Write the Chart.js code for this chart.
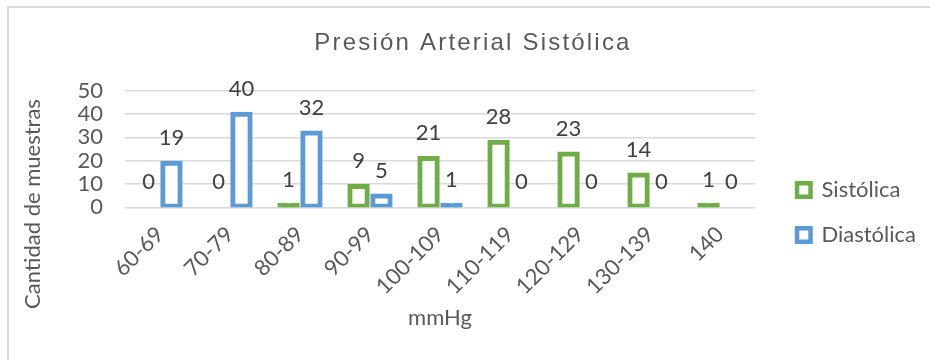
<!DOCTYPE html>
<html lang="es">
<head>
    <meta charset="UTF-8">
    <title>Presión Arterial Sistólica</title>
    <style>
        body {
            margin: 0;
            background: #ffffff;
        }
        #wrap {
            position: relative;
            width: 930px;
            height: 360px;
        }
        #frame {
            position: absolute;
            left: 7px;
            top: 6px;
            width: 940px;
            height: 370px;
            border-top: 2px solid #d9d9d9;
            border-left: 2px solid #d9d9d9;
        }
        canvas {
            position: absolute;
            left: 0;
            top: 0;
        }
    </style>
    <script src="https://cdn.jsdelivr.net/npm/chart.js"></script>
</head>
<body>

<div id="wrap">
    <div id="frame"></div>
    <canvas id="chart" width="930" height="360"></canvas>
</div>

<script>
// data
const categories = ["60-69", "70-79", "80-89", "90-99", "100-109", "110-119", "120-129", "130-139", "140"];
const sistolica = [0, 0, 1, 9, 21, 28, 23, 14, 1];
const diastolica = [19, 40, 32, 5, 1, 0, 0, 0, 0];
const yMin = 0;
const yMax = 50;
const yStep = 10;

const chartTitle = "Presión Arterial Sistólica";
const yTitle = "Cantidad de muestras";
const xTitle = "mmHg";

const textGray = "#595959";
const labelGray = "#404040";
const green = "#70AD47";
const blue = "#5B9BD5";
const font = "Lato";
const fontSize = 22;
const barBorder = 5;

// value labels above each bar
const valueLabels = {
    id: "valueLabels",
    afterDatasetsDraw(chart) {
        const ctx = chart.ctx;
        ctx.save();
        ctx.font = fontSize + "px " + font;
        ctx.fillStyle = labelGray;
        ctx.textAlign = "center";
        ctx.textBaseline = "middle";
        chart.data.datasets.forEach((ds, i) => {
            chart.getDatasetMeta(i).data.forEach((bar, j) => {
                ctx.fillText(String(ds.data[j]), bar.x, bar.y - 25);
            });
        });
        ctx.restore();
    }
};

// title with letter spacing and the y axis title centred like the original
const extraText = {
    id: "extraText",
    afterDraw(chart) {
        const ctx = chart.ctx;
        ctx.save();
        ctx.fillStyle = textGray;
        ctx.textAlign = "center";
        ctx.textBaseline = "middle";
        ctx.font = "24px 'Liberation Sans'";
        ctx.letterSpacing = "2.2px";
        ctx.fillText(chartTitle, 473, 43);
        ctx.letterSpacing = "0px";
        ctx.font = fontSize + "px " + font;
        ctx.translate(33, 204);
        ctx.rotate(-Math.PI / 2);
        ctx.fillText(yTitle, 0, 0);
        ctx.restore();
    }
};

// a bar shorter than its two borders is drawn solid, as in the original
function barFill(color) {
    return (c) => {
        const y = c.chart.scales.y;
        if (!y || c.raw === undefined) return "#ffffff";
        const h = Math.abs(y.getPixelForValue(c.raw) - y.getPixelForValue(0));
        return h < 2 * barBorder ? color : "#ffffff";
    };
}

function makeDataset(label, data, color) {
    return {
        label: label,
        data: data,
        borderColor: color,
        backgroundColor: barFill(color),
        borderWidth: barBorder,
        inflateAmount: 2.25,
        borderSkipped: false
    };
}

new Chart(document.getElementById("chart"), {
    type: "bar",
    data: {
        labels: categories,
        datasets: [
            makeDataset("Sistólica", sistolica, green),
            makeDataset("Diastólica", diastolica, blue)
        ]
    },
    options: {
        responsive: false,
        animation: false,
        categoryPercentage: 0.655,
        barPercentage: 0.78,
        layout: {
            padding: { top: 90.7, right: 4, bottom: 25.7, left: 0 }
        },
        plugins: {
            title: { display: false },
            tooltip: { enabled: false },
            legend: {
                position: "right",
                align: "center",
                labels: {
                    boxWidth: 13.5,
                    boxHeight: 13.5,
                    padding: 23,
                    color: textGray,
                    font: { family: font, size: fontSize },
                    generateLabels(chart) {
                        return Chart.defaults.plugins.legend.labels.generateLabels(chart)
                            .map(item => Object.assign(item, { lineWidth: 4.5, fillStyle: "#ffffff" }));
                    }
                }
            }
        },
        scales: {
            x: {
                grid: { display: false },
                border: { display: false },
                ticks: {
                    color: textGray,
                    font: { family: font, size: fontSize },
                    minRotation: 45,
                    maxRotation: 45,
                    autoSkip: false,
                    padding: 6
                },
                title: {
                    display: true,
                    text: xTitle,
                    color: textGray,
                    font: { family: font, size: fontSize },
                    padding: { top: 0, bottom: 3 }
                },
                afterFit(scale) { scale.height = 127; }
            },
            y: {
                min: yMin,
                max: yMax,
                grid: { color: "#d9d9d9", lineWidth: 1.5, drawTicks: false },
                border: { display: false },
                ticks: {
                    stepSize: yStep,
                    autoSkip: false,
                    color: textGray,
                    font: { family: font, size: fontSize },
                    padding: 22
                },
                afterFit(scale) { scale.width = 125; }
            },
            // empty spacer between the plot and the legend
            gap: {
                position: "right",
                display: true,
                grid: { display: false },
                border: { display: false },
                ticks: { display: false },
                afterFit(scale) { scale.width = 19; }
            }
        }
    },
    plugins: [valueLabels, extraText]
});
</script>

</body>
</html>
